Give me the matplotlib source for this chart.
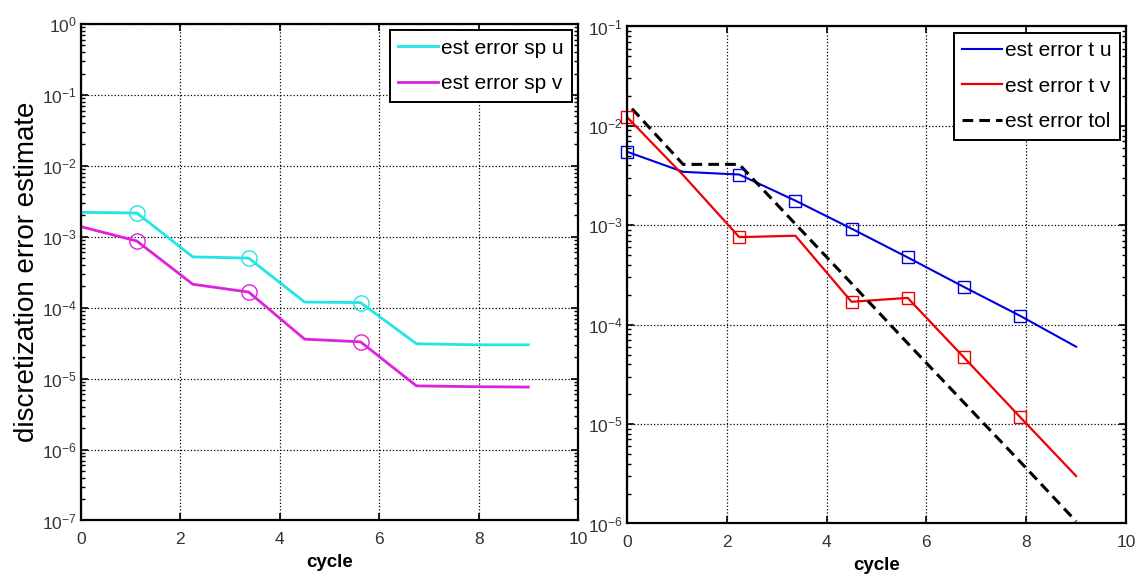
import matplotlib
matplotlib.use('Agg')
import matplotlib.pyplot as plt

plt.rcParams['font.family'] = ['Liberation Sans', 'DejaVu Sans']
plt.rcParams['mathtext.fontset'] = 'custom'
plt.rcParams['mathtext.rm'] = 'Liberation Sans'
plt.rcParams['mathtext.it'] = 'Liberation Sans:italic'
plt.rcParams['mathtext.bf'] = 'Liberation Sans:bold'
plt.rcParams['axes.unicode_minus'] = False

# cycle positions (same for every series)
cycle = [0, 1.125, 2.25, 3.375, 4.5, 5.625, 6.75, 7.875, 9]

# left panel: space error estimates
sp_u = [2.21e-3, 2.16e-3, 5.2e-4, 5.0e-4, 1.2e-4, 1.18e-4, 3.1e-5, 3.0e-5, 3.0e-5]
sp_v = [1.39e-3, 8.7e-4, 2.14e-4, 1.66e-4, 3.6e-5, 3.3e-5, 7.9e-6, 7.7e-6, 7.6e-6]
sp_marked = [1, 3, 5]

# right panel: time error estimates and tolerance
t_u = [5.5e-3, 3.45e-3, 3.24e-3, 1.77e-3, 9.25e-4, 4.75e-4, 2.4e-4, 1.23e-4, 6.0e-5]
t_v = [1.23e-2, 3.2e-3, 7.6e-4, 7.85e-4, 1.7e-4, 1.86e-4, 4.7e-5, 1.18e-5, 3.0e-6]
tol_cycle = [0.1, 1.125, 2.25, 3.375, 4.5, 5.625, 6.75, 7.875, 9]
tol = [1.49e-2, 4.1e-3, 4.1e-3, 1.03e-3, 2.6e-4, 6.5e-5, 1.65e-5, 4.2e-6, 1.05e-6]
t_u_marked = [0, 2, 3, 4, 5, 6, 7]
t_v_marked = [0, 2, 4, 5, 6, 7]

xticks = [0, 2, 4, 6, 8, 10]

fig = plt.figure(figsize=(11.42, 5.86), dpi=100)
ax1 = fig.add_axes([0.0709, 0.1118, 0.4352, 0.8473])
ax2 = fig.add_axes([0.549, 0.1067, 0.4370, 0.8481])


def style_axes(ax, ylo, yhi):
    ax.set_yscale('log')
    ax.set_xlim(0, 10)
    ax.set_ylim(ylo, yhi)
    ax.set_xticks(xticks)
    ax.grid(True, which='major', linestyle=':', color='black', linewidth=0.9)
    ax.tick_params(which='both', direction='in', top=True, right=True,
                   labelsize=12.5, labelcolor='#333333')
    ax.tick_params(axis='x', pad=8)
    ax.tick_params(axis='y', pad=3)
    ax.tick_params(which='major', length=5, width=1.2)
    ax.tick_params(which='minor', length=3, width=1.0)
    for s in ax.spines.values():
        s.set_linewidth(1.6)
    ax.set_xlabel('cycle', fontsize=13.5, fontweight='bold', labelpad=5)


def add_legend(ax):
    leg = ax.legend(loc='upper right', fontsize=15, fancybox=False, framealpha=1,
                    edgecolor='black', handlelength=1.9, handletextpad=0.15,
                    borderpad=0.4, labelspacing=0.8, borderaxespad=0.3)
    leg.get_frame().set_linewidth(1.4)


# left panel
ax1.plot(cycle, sp_u, color='#22e5e5', lw=2, label='est error sp u')
ax1.plot(cycle, sp_v, color='#dd22dd', lw=2, label='est error sp v')
ax1.plot([cycle[i] for i in sp_marked], [sp_u[i] for i in sp_marked], 'o',
         mfc='none', mec='#22e5e5', ms=11, mew=1, clip_on=False)
ax1.plot([cycle[i] for i in sp_marked], [sp_v[i] for i in sp_marked], 'o',
         mfc='none', mec='#dd22dd', ms=11, mew=1, clip_on=False)
style_axes(ax1, 1e-7, 1e0)
ax1.set_ylabel('discretization error estimate', fontsize=20)
ax1.yaxis.set_label_coords(-0.083, 0.5)
add_legend(ax1)

# right panel
ax2.plot(cycle, t_u, color='#0000dd', lw=1.5, label='est error t u')
ax2.plot(cycle, t_v, color='#ee0000', lw=1.6, label='est error t v')
ax2.plot(tol_cycle, tol, color='black', lw=2.2, dashes=(3.5, 2), label='est error tol')
ax2.plot([cycle[i] for i in t_u_marked], [t_u[i] for i in t_u_marked], 's',
         mfc='none', mec='#0000dd', ms=9, mew=1, clip_on=False)
ax2.plot([cycle[i] for i in t_v_marked], [t_v[i] for i in t_v_marked], 's',
         mfc='none', mec='#ee0000', ms=9, mew=1, clip_on=False)
style_axes(ax2, 1e-6, 1e-1)
add_legend(ax2)

plt.savefig('out.png', dpi=100)
